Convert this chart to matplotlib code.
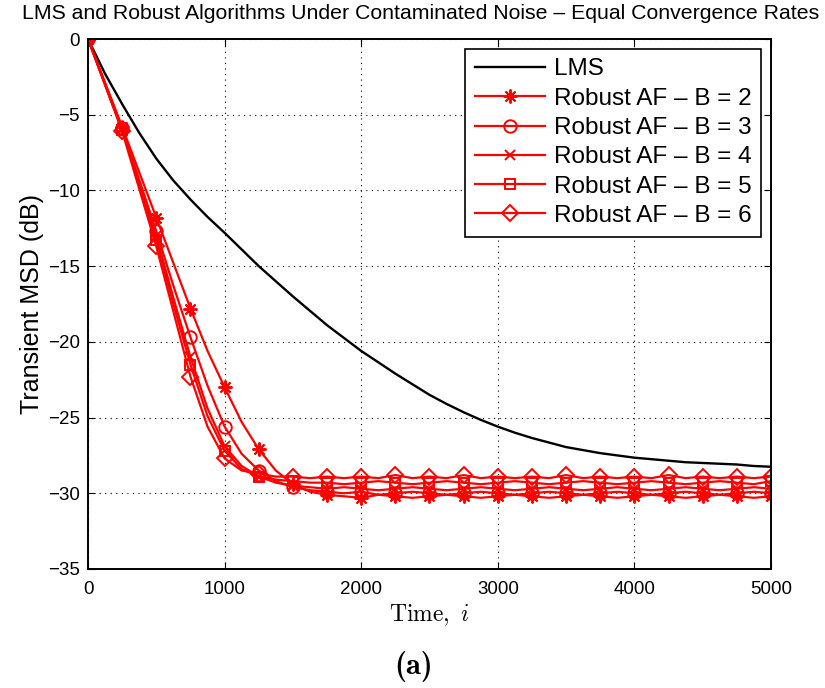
import numpy as np
import matplotlib
matplotlib.use("Agg")
import matplotlib.pyplot as plt

plt.rcParams['font.family'] = ['Liberation Sans', 'DejaVu Sans']
plt.rcParams['mathtext.fontset'] = 'cm'

# time axis (samples every 125, markers every 250)
time_idx = np.arange(0, 5001, 125)

lms_msd = [0, -2.3, -4.3, -6.2, -7.9, -9.35, -10.6, -11.75, -12.8, -13.9, -15.0, -16.0,
           -17.0, -17.95, -18.9, -19.75, -20.6, -21.35, -22.1, -22.8, -23.5, -24.1,
           -24.65, -25.15, -25.6, -26.0, -26.35, -26.65, -26.95, -27.15, -27.35, -27.5,
           -27.65, -27.75, -27.85, -27.95, -28.0, -28.05, -28.1, -28.2, -28.25]

robust_b2 = [0, -2.9, -5.8, -8.8, -11.8, -14.8, -17.8, -20.6, -23.0, -25.3, -27.1, -28.5,
             -29.4, -29.9, -30.1, -30.2, -30.3, -30.1, -30.2, -30.3, -30.2, -30.1,
             -30.2, -30.3, -30.2, -30.1, -30.2, -30.3, -30.2, -30.1, -30.2, -30.3,
             -30.2, -30.1, -30.2, -30.3, -30.2, -30.1, -30.2, -30.3, -30.2]
robust_b3 = [0, -2.95, -5.9, -9.3, -12.7, -16.3, -19.7, -22.9, -25.6, -27.4, -28.5, -29.2,
             -29.6, -29.8, -29.9, -30.0, -29.9, -30.1, -30.0, -29.9, -30.0, -30.1,
             -30.0, -29.9, -30.0, -30.1, -30.0, -29.9, -30.0, -30.1, -30.0, -29.9,
             -30.0, -30.1, -30.0, -29.9, -30.0, -30.1, -30.0, -29.9, -30.0]
robust_b4 = [0, -3.0, -6.0, -9.5, -13.0, -17.1, -21.0, -24.4, -26.9, -28.2, -28.9, -29.3,
             -29.5, -29.6, -29.7, -29.6, -29.7, -29.8, -29.7, -29.6, -29.7, -29.8,
             -29.7, -29.6, -29.7, -29.8, -29.7, -29.6, -29.7, -29.8, -29.7, -29.6,
             -29.7, -29.8, -29.7, -29.6, -29.7, -29.8, -29.7, -29.6, -29.7]
robust_b5 = [0, -3.0, -6.0, -9.6, -13.3, -17.5, -21.5, -24.9, -27.2, -28.4, -28.9, -29.1,
             -29.2, -29.3, -29.3, -29.4, -29.3, -29.2, -29.3, -29.4, -29.3, -29.2,
             -29.3, -29.4, -29.3, -29.2, -29.3, -29.4, -29.3, -29.2, -29.3, -29.4,
             -29.3, -29.2, -29.3, -29.4, -29.3, -29.2, -29.3, -29.4, -29.2]
robust_b6 = [0, -3.05, -6.1, -9.9, -13.7, -18.0, -22.3, -25.6, -27.7, -28.5, -28.7, -28.9,
             -28.9, -29.0, -28.9, -29.0, -28.9, -29.0, -28.8, -29.0, -28.9, -29.0,
             -28.8, -29.0, -28.9, -29.0, -28.9, -29.0, -28.8, -29.0, -28.9, -29.0,
             -28.9, -29.0, -28.8, -29.0, -28.9, -29.0, -28.9, -29.0, -28.9]

robust_series = [robust_b2, robust_b3, robust_b4, robust_b5, robust_b6]
b_values = [2, 3, 4, 5, 6]
markers = [(8, 2, 0), 'o', 'x', 's', 'D']
msizes = [10, 9, 7, 7, 8]

fig = plt.figure(figsize=(8.25, 6.88), dpi=100)
ax = fig.add_axes([0.1067, 0.173, 0.8278, 0.7703])

ax.plot(time_idx, lms_msd, color='black', lw=1.7, label='LMS')
for vals, b, m, ms in zip(robust_series, b_values, markers, msizes):
    ax.plot(time_idx, vals, color='red', lw=1.6, marker=m, markevery=2, ms=ms,
            mfc='none', mec='red', mew=1.4, label=f'Robust AF – B = {b}')

ax.set_xlim(0, 5000)
ax.set_ylim(-35, 0)
ax.set_xticks(range(0, 5001, 1000))
ax.set_yticks(range(-35, 1, 5))
ax.tick_params(direction='in', top=True, right=True, labelsize=13.5, length=5)
ax.tick_params(axis='x', pad=9)
ax.tick_params(axis='y', pad=6)
ax.grid(True, linestyle=(0, (1, 4)), color='black', lw=0.8)
for s in ax.spines.values():
    s.set_linewidth(1.4)

ax.set_xlabel(r'$\mathrm{Time,}\ i$', fontsize=17, labelpad=3)
ax.set_ylabel('Transient MSD (dB)', fontsize=18, labelpad=3)
fig.text(0.510, 0.981, 'LMS and Robust Algorithms Under Contaminated Noise – Equal Convergence Rates',
         ha='center', va='center', fontsize=15.3)

leg = ax.legend(loc='upper right', fontsize=17.5, handlelength=2.9, handletextpad=0.35,
                borderpad=0.4, labelspacing=0.3, fancybox=False, framealpha=1,
                edgecolor='black', borderaxespad=0.4)
leg.get_frame().set_linewidth(1.2)

fig.text(0.501, 0.031, '(a)', ha='center', va='center', fontsize=22, family='cmb10')

plt.savefig('out.png', dpi=100)
